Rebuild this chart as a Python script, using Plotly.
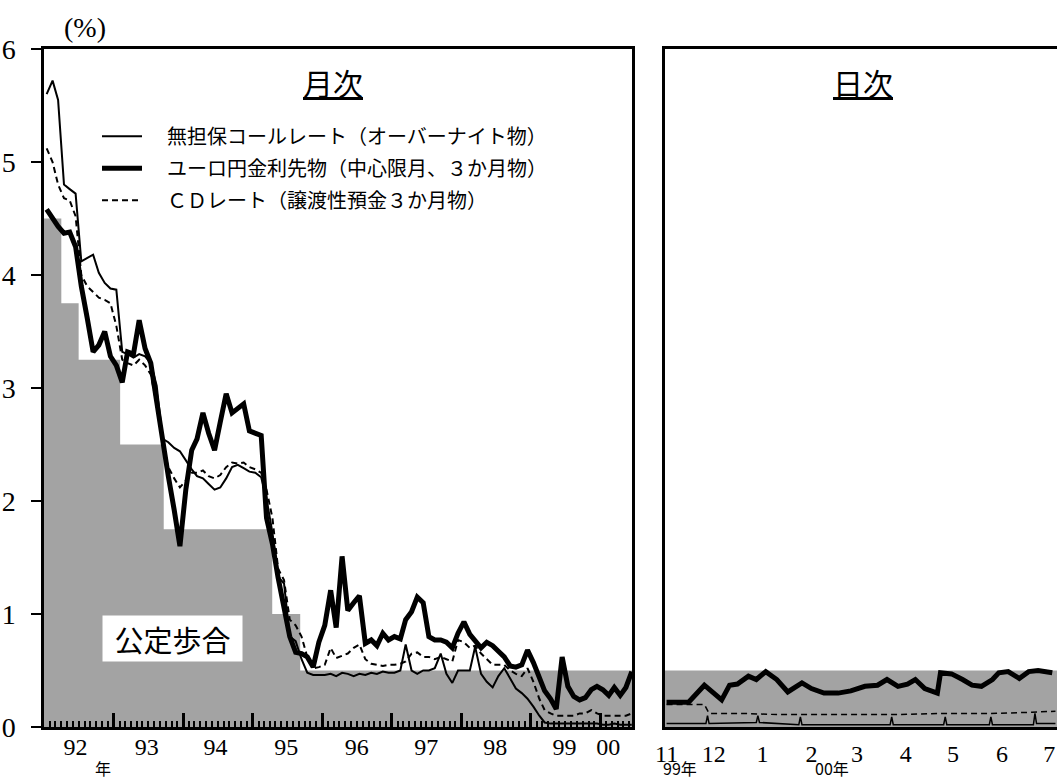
import plotly.graph_objects as go

# monthly series, Jan 1992 - Jun 2000 (plotted mid-month)
months = [f"{y}-{m:02d}-15" for y in range(1992, 2001) for m in range(1, 13)][:102]

call_m = [
    5.60, 5.72, 5.55, 4.80, 4.76, 4.72, 4.12, 4.15, 4.18, 4.02, 3.93, 3.88,
    3.87, 3.32, 3.30, 3.27, 3.30, 3.28, 3.22, 3.02, 2.55, 2.52, 2.47, 2.44,
    2.36, 2.28, 2.22, 2.20, 2.15, 2.10, 2.12, 2.20, 2.30, 2.32, 2.29, 2.26,
    2.25, 2.21, 2.02, 1.72, 1.33, 1.27, 0.80, 0.76, 0.60, 0.48, 0.46, 0.46,
    0.46, 0.47, 0.45, 0.48, 0.47, 0.45, 0.47, 0.46, 0.48, 0.47, 0.49, 0.48,
    0.48, 0.50, 0.73, 0.50, 0.47, 0.50, 0.50, 0.52, 0.65, 0.47, 0.39, 0.50,
    0.50, 0.50, 0.71, 0.47, 0.40, 0.35, 0.45, 0.52, 0.43, 0.34, 0.30, 0.25,
    0.18, 0.10, 0.04, 0.03, 0.03, 0.03, 0.03, 0.03, 0.03, 0.03, 0.03, 0.03,
    0.02, 0.02, 0.03, 0.02, 0.02, 0.02,
]
futures_m = [
    4.58, 4.50, 4.43, 4.37, 4.38, 4.25, 3.90, 3.62, 3.32, 3.38, 3.50, 3.28,
    3.20, 3.05, 3.32, 3.30, 3.60, 3.35, 3.22, 2.88, 2.52, 2.22, 1.92, 1.60,
    2.10, 2.45, 2.55, 2.78, 2.60, 2.45, 2.70, 2.95, 2.78, 2.82, 2.86, 2.62,
    2.60, 2.58, 1.85, 1.62, 1.32, 1.05, 0.80, 0.66, 0.65, 0.62, 0.53, 0.75,
    0.90, 1.21, 0.88, 1.51, 1.03, 1.10, 1.16, 0.74, 0.77, 0.72, 0.83, 0.77,
    0.80, 0.78, 0.95, 1.02, 1.15, 1.10, 0.80, 0.77, 0.77, 0.75, 0.70, 0.83,
    0.93, 0.82, 0.77, 0.70, 0.75, 0.72, 0.67, 0.62, 0.54, 0.53, 0.55, 0.68,
    0.57, 0.44, 0.32, 0.25, 0.16, 0.62, 0.36, 0.27, 0.24, 0.26, 0.33, 0.36,
    0.33, 0.28, 0.35, 0.28, 0.35, 0.49,
]
cd_m = [
    5.12, 5.00, 4.80, 4.68, 4.66, 4.52, 4.00, 3.90, 3.85, 3.80, 3.78, 3.75,
    3.55, 3.25, 3.22, 3.20, 3.25, 3.20, 3.12, 2.85, 2.50, 2.30, 2.20, 2.12,
    2.18, 2.25, 2.25, 2.27, 2.22, 2.20, 2.23, 2.30, 2.34, 2.33, 2.34, 2.30,
    2.28, 2.25, 2.10, 1.85, 1.40, 1.30, 0.95, 0.90, 0.80, 0.62, 0.52, 0.53,
    0.55, 0.70, 0.61, 0.63, 0.65, 0.70, 0.73, 0.60, 0.56, 0.55, 0.54, 0.55,
    0.55, 0.56, 0.58, 0.65, 0.66, 0.62, 0.62, 0.60, 0.62, 0.60, 0.58, 0.77,
    0.75, 0.70, 0.72, 0.65, 0.60, 0.55, 0.55, 0.55, 0.50, 0.47, 0.45, 0.52,
    0.40, 0.25, 0.15, 0.12, 0.10, 0.10, 0.10, 0.10, 0.12, 0.12, 0.15, 0.12,
    0.10, 0.10, 0.10, 0.10, 0.10, 0.12,
]

# official discount rate (step)
disc_dates = ["1992-01-01", "1992-04-01", "1992-07-01", "1993-02-04",
              "1993-09-21", "1995-04-14", "1995-09-08", "2000-06-16"]
disc_rate = [4.5, 3.75, 3.25, 2.5, 1.75, 1.0, 0.5, 0.5]

# daily panel, Nov 1999 - Jul 2000
disc_d_dates = ["1999-10-31", "2000-07-06"]
disc_d_rate = [0.5, 0.5]

fut_d_dates = [
    "1999-11-01", "1999-11-15", "1999-11-25", "1999-12-06", "1999-12-11", "1999-12-16",
    "1999-12-23", "1999-12-28", "2000-01-03", "2000-01-10", "2000-01-17", "2000-01-26",
    "2000-02-01", "2000-02-09", "2000-02-18", "2000-02-26", "2000-03-06", "2000-03-14",
    "2000-03-20", "2000-03-27", "2000-04-02", "2000-04-07", "2000-04-13", "2000-04-21",
    "2000-04-23", "2000-04-30", "2000-05-07", "2000-05-13", "2000-05-19", "2000-05-26",
    "2000-05-30", "2000-06-05", "2000-06-12", "2000-06-18", "2000-06-24", "2000-07-03",
]
fut_d = [
    0.22, 0.22, 0.37, 0.24, 0.37, 0.38,
    0.45, 0.42, 0.49, 0.42, 0.31, 0.39,
    0.34, 0.30, 0.30, 0.32, 0.36, 0.37,
    0.42, 0.36, 0.38, 0.42, 0.34, 0.30,
    0.48, 0.47, 0.42, 0.37, 0.36, 0.42,
    0.48, 0.49, 0.43, 0.49, 0.50, 0.48,
]

call_d_dates = [
    "1999-11-01", "1999-11-26", "1999-11-27", "1999-11-28", "1999-12-28", "1999-12-29",
    "1999-12-30", "2000-01-24", "2000-01-25", "2000-01-26", "2000-03-22", "2000-03-23",
    "2000-03-24", "2000-04-25", "2000-04-26", "2000-04-27", "2000-05-24", "2000-05-25",
    "2000-05-26", "2000-06-21", "2000-06-22", "2000-06-23", "2000-07-05",
]
call_d = [
    0.03, 0.03, 0.10, 0.03, 0.04, 0.10,
    0.04, 0.02, 0.09, 0.02, 0.02, 0.09,
    0.02, 0.02, 0.09, 0.02, 0.02, 0.09,
    0.02, 0.02, 0.12, 0.03, 0.03,
]

cd_d_dates = ["1999-11-01", "1999-11-25", "1999-11-28", "1999-12-20", "2000-01-10",
              "2000-02-25", "2000-03-25", "2000-04-25", "2000-05-25", "2000-06-20", "2000-07-05"]
cd_d = [0.20, 0.20, 0.12, 0.12, 0.11, 0.11, 0.11, 0.12, 0.12, 0.13, 0.14]

# tick labels
year_ticks = [f"{y}-01-01" for y in range(1993, 2001)]
year_label_pos = ["1992-06-15", "1993-06-24", "1994-06-20", "1995-06-27", "1996-07-01",
                  "1997-07-01", "1998-06-28", "1999-06-27", "2000-02-12"]
year_labels = ["92", "93", "94", "95", "96", "97", "98", "99", "00"]
month_ticks = ["1999-11-01", "1999-12-01", "2000-01-01", "2000-02-01", "2000-03-01",
               "2000-04-01", "2000-05-01", "2000-06-01", "2000-07-01"]
month_labels = ["11", "12", "1", "2", "3", "4", "5", "6", "7"]

W, H = 1057, 783
GRAY = "#a3a3a3"
JP = "Noto Sans CJK JP"
SERIF = "Liberation Serif"

fig = go.Figure()

# monthly panel
fig.add_trace(go.Scatter(x=disc_dates, y=disc_rate, mode="lines", line=dict(shape="hv", width=0),
                         fill="tozeroy", fillcolor=GRAY, showlegend=False, hoverinfo="skip",
                         xaxis="x", yaxis="y"))
fig.add_trace(go.Scatter(x=months, y=cd_m, mode="lines", name="\u3000ＣＤレート（譲渡性預金３か月物）",
                         line=dict(color="black", width=2, dash="6px,4px"),
                         legendgroup="c", legendrank=3, xaxis="x3", yaxis="y"))
fig.add_trace(go.Scatter(x=months, y=call_m, mode="lines", name="\u3000無担保コールレート（オーバーナイト物）",
                         line=dict(color="black", width=2),
                         legendgroup="a", legendrank=1, xaxis="x3", yaxis="y"))
fig.add_trace(go.Scatter(x=months, y=futures_m, mode="lines", name="\u3000ユーロ円金利先物（中心限月、３か月物）",
                         line=dict(color="black", width=5),
                         legendgroup="b", legendrank=2, xaxis="x3", yaxis="y"))

# daily panel
fig.add_trace(go.Scatter(x=disc_d_dates, y=disc_d_rate, mode="lines", line=dict(width=0),
                         fill="tozeroy", fillcolor=GRAY, showlegend=False, hoverinfo="skip",
                         xaxis="x2", yaxis="y2"))
fig.add_trace(go.Scatter(x=cd_d_dates, y=cd_d, mode="lines", showlegend=False,
                         line=dict(color="black", width=1.5, dash="6px,4px"), xaxis="x2", yaxis="y2"))
fig.add_trace(go.Scatter(x=call_d_dates, y=call_d, mode="lines", showlegend=False,
                         line=dict(color="black", width=1.5), xaxis="x2", yaxis="y2"))
fig.add_trace(go.Scatter(x=fut_d_dates, y=fut_d, mode="lines", showlegend=False,
                         line=dict(color="black", width=5), xaxis="x2", yaxis="y2"))

left_dom = [44 / W, 632 / W]
right_dom = [665 / W, 1.0]
left_range = ["1992-01-01", "2000-06-16"]

fig.update_layout(
    width=W, height=H,
    template="none",
    paper_bgcolor="white", plot_bgcolor="white",
    margin=dict(l=0, r=0, t=49, b=56),
    font=dict(family=JP, color="black"),
    showlegend=True,
    legend=dict(x=97 / W, y=0.9, xanchor="left", yanchor="top",
                traceorder="grouped", tracegroupgap=3,
                font=dict(family=JP, size=20, color="black"),
                bgcolor="rgba(0,0,0,0)", itemwidth=40),
    xaxis=dict(domain=left_dom, type="date", range=left_range,
               tickmode="array", tickvals=year_ticks, showticklabels=False,
               ticks="inside", ticklen=14, tickwidth=3, tickcolor="black",
               minor=dict(tickmode="linear", tick0="1992-01-01", dtick="M1",
                          ticks="inside", ticklen=6, tickwidth=1.5, tickcolor="black"),
               showline=True, linewidth=3, linecolor="black", mirror=True,
               showgrid=False, zeroline=False, anchor="y", automargin=False),
    xaxis3=dict(overlaying="x", type="date", range=left_range,
                tickmode="array", tickvals=year_label_pos, ticktext=year_labels,
                ticks="", showline=False, showgrid=False, zeroline=False,
                ticklabelstandoff=3,
                tickfont=dict(family=SERIF, size=24, color="black"),
                anchor="y", side="bottom", automargin=False),
    yaxis=dict(domain=[0, 1], range=[0, 6], tickvals=[0, 1, 2, 3, 4, 5, 6],
               ticks="outside", ticklen=10, tickwidth=2, tickcolor="black",
               ticklabelstandoff=10,
               tickfont=dict(family=SERIF, size=28, color="black"),
               showline=True, linewidth=2.5, linecolor="black", mirror=True,
               showgrid=False, zeroline=False, anchor="x", automargin=False),
    xaxis2=dict(domain=right_dom, type="date", range=["1999-10-31", "2000-07-06"],
                tickmode="array", tickvals=month_ticks, ticktext=month_labels,
                ticks="", ticklabelstandoff=3,
                tickfont=dict(family=SERIF, size=24, color="black"),
                showline=True, linewidth=3, linecolor="black", mirror=True,
                showgrid=False, zeroline=False, anchor="y2", automargin=False),
    yaxis2=dict(domain=[0, 1], range=[0, 6], showticklabels=False, ticks="",
                showline=True, linewidth=2.5, linecolor="black", mirror=False,
                showgrid=False, zeroline=False, anchor="x2", automargin=False),
)

def ypx(py):
    return (727 - py) / 678

annotations = [
    dict(text="(%)", x=85 / W, y=ypx(27), font=dict(family=SERIF, size=28)),
    dict(text="月次", x=333 / W, y=ypx(82), font=dict(family=JP, size=30, lineposition="under")),
    dict(text="日次", x=863 / W, y=ypx(82), font=dict(family=JP, size=30, lineposition="under")),
    dict(text="公定歩合", x=172 / W, y=ypx(638), font=dict(family=JP, size=29),
         bgcolor="white", width=137, height=43),
    dict(text="年", x=103 / W, y=ypx(782), yanchor="bottom", font=dict(family=JP, size=16)),
    dict(text="99年", x=680 / W, y=ypx(782), yanchor="bottom", font=dict(family=JP, size=16)),
    dict(text="00年", x=832 / W, y=ypx(782), yanchor="bottom", font=dict(family=JP, size=16)),
]
for a in annotations:
    a.setdefault("yanchor", "middle")
    a.update(xref="paper", yref="paper", showarrow=False, xanchor="center")
    a["font"]["color"] = "black"
fig.update_layout(annotations=annotations)

fig.write_html("out.html", config={"displayModeBar": False},
               post_script="document.body.style.margin='0px';")
